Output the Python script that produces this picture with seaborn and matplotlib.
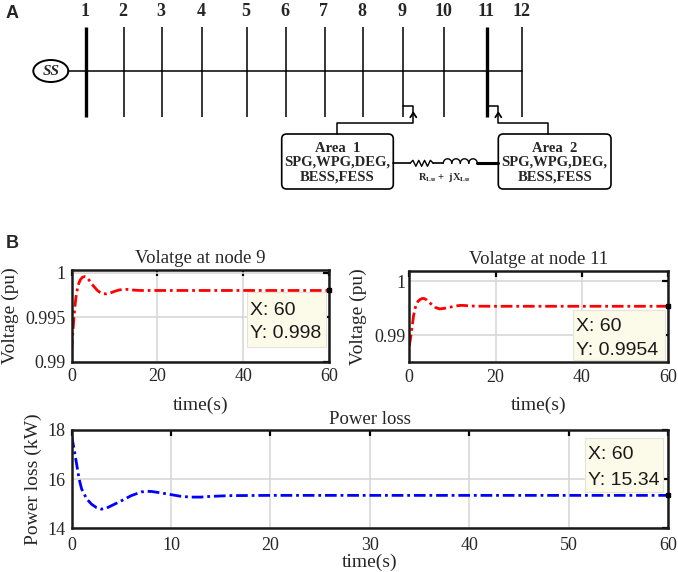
import numpy as np
import pandas as pd
import matplotlib
matplotlib.use('Agg')
import matplotlib.pyplot as plt
import seaborn as sns
from matplotlib.patches import Ellipse, FancyBboxPatch, Rectangle

# ---------------- data ----------------
bus_labels = ['1', '2', '3', '4', '5', '6', '7', '8', '9', '10', '11', '12']
area_texts = ['Area  1\nSPG,WPG,DEG,\nBESS,FESS', 'Area  2\nSPG,WPG,DEG,\nBESS,FESS']

time_v = [0, 0.25, 0.5, 0.75, 1.0, 1.5, 2.0, 2.5, 3.0, 3.5, 4.0, 5, 6, 7, 8, 9,
          10, 11, 12, 13, 14, 16, 20, 30, 40, 50, 60]
v_node9 = [0.9912, 0.9932, 0.9948, 0.9962, 0.9973, 0.9986, 0.9992, 0.99948, 0.99956,
           0.9995, 0.9992, 0.99855, 0.9980, 0.99765, 0.99762, 0.99772, 0.9979, 0.99805,
           0.99812, 0.99812, 0.99806, 0.99800, 0.99800, 0.998, 0.998, 0.998, 0.998]
v_node11 = [0.9880, 0.9893, 0.9907, 0.9922, 0.9937, 0.9955, 0.9963, 0.99665, 0.99685,
            0.99682, 0.9966, 0.99585, 0.9952, 0.99491, 0.9950, 0.99515, 0.99532, 0.99548,
            0.99557, 0.99553, 0.99546, 0.99541, 0.9954, 0.9954, 0.9954, 0.9954, 0.9954]
time_p = [0, 0.25, 0.5, 0.75, 1.0, 1.5, 2.0, 2.5, 3.0, 3.5, 4.0, 5, 6, 7, 7.5, 8, 9,
          10, 11, 12, 13, 14, 16, 20, 30, 40, 50, 60]
p_loss = [17.75, 17.2, 16.6, 16.0, 15.6, 15.2, 14.98, 14.84, 14.78, 14.82, 14.92, 15.12,
          15.33, 15.48, 15.5, 15.5, 15.44, 15.37, 15.3, 15.27, 15.27, 15.3, 15.33, 15.34,
          15.34, 15.34, 15.34, 15.34]

tip9 = (60, 0.998, ['X: 60', 'Y: 0.998'])
tip11 = (60, 0.9954, ['X: 60', 'Y: 0.9954'])
tipP = (60, 15.34, ['X: 60', 'Y: 15.34'])

# ---------------- style ----------------
sns.set_style('white')
plt.rcParams['font.family'] = ['Liberation Serif', 'DejaVu Serif']
plt.rcParams['mathtext.fontset'] = 'stix'

W, H = 678, 572
fig = plt.figure(figsize=(W / 100, H / 100), dpi=100)

# ---------------- panel A (schematic, pixel layout) ----------------
ax0 = fig.add_axes([0, 0, 1, 1])
ax0.set_xlim(0, W)
ax0.set_ylim(H, 0)
ax0.axis('off')
ax0.patch.set_alpha(0)

bus_x = [86, 124, 162.3, 202.3, 247, 285.7, 325, 363.3, 403.3, 444, 487.3, 522.3]
thick = {'1', '11'}
for lab, x in zip(bus_labels, bus_x):
    ax0.plot([x, x], [26.5, 116.7], color='black', lw=2.4 if lab in thick else 1.1,
             solid_capstyle='butt')
    ax0.text(x - 1, 11, lab, ha='center', va='center', fontsize=13, fontweight='bold')
ax0.plot([68.3, bus_x[-1]], [71, 71], color='black', lw=1.1)
ax0.add_patch(Ellipse((50.8, 71), 35, 22, fill=False, ec='black', lw=1.4))
ax0.text(50.8, 71.5, 'SS', ha='center', va='center', fontsize=11, fontstyle='italic',
         fontweight='bold')

# boxes
boxes = [(281.7, 134, 111.6, 55), (498.3, 134, 112.7, 55)]
for (bx, by, bw, bh), txt in zip(boxes, area_texts):
    ax0.add_patch(FancyBboxPatch((bx, by), bw, bh, boxstyle='round,pad=0,rounding_size=5',
                                 fill=False, ec='black', lw=1.2))
    ax0.text(bx + bw / 2, by + bh / 2 + 1, txt, ha='center', va='center', fontsize=10.5,
             fontweight='bold', linespacing=1.15)

# plug connections
for xb, xa, xbox in [(403.3, 413.3, 336.7), (487.3, 498.3, 548.3)]:
    ax0.plot([xb, xa, xa], [106, 106, 112.7], color='black', lw=1.1)
    ax0.plot([xa, xa, xbox, xbox], [112.7, 122.7, 122.7, 134], color='black', lw=1.1)
    ax0.plot([xa - 3, xa, xa + 3], [117.3, 112.7, 117.3], color='black', lw=1.3)

# line impedance
ly = 163.3
ax0.plot([393.3, 410], [ly, ly], color='black', lw=1.2)
zx = np.linspace(410, 433.3, 9)
zy = ly + np.array([0, -3, 3, -3, 3, -3, 3, -3, 0])
ax0.plot(zx, zy, color='black', lw=1.0)
ax0.plot([433.3, 443.3], [ly, ly], color='black', lw=1.2)
ncoil = 4
cw = (477.3 - 443.3) / ncoil
for i in range(ncoil):
    th = np.linspace(np.pi, 0, 30)
    cx = 443.3 + cw * (i + 0.5)
    ax0.plot(cx + cw / 2 * np.cos(th), ly - 4.5 * np.sin(th), color='black', lw=1.0)
ax0.plot([477.3, 498.3], [ly, ly], color='black', lw=2.2)
ax0.text(444, 177.5, r'R$_{\mathbf{Lu}}$ +  jX$_{\mathbf{Lu}}$', ha='center', va='center',
         fontsize=7.5, fontweight='bold')

ax0.text(12, 14, 'A', ha='center', va='center', fontsize=13, fontweight='bold',
         family='Liberation Sans')
ax0.text(12, 243, 'B', ha='center', va='center', fontsize=13, fontweight='bold',
         family='Liberation Sans')

# ---------------- panel B plots ----------------
def px_rect(l, r, t, b):
    return [l / W, 1 - b / H, (r - l) / W, (b - t) / H]

tick_col = '#262626'

def style_axes(ax, xt, yt, ytl, xpad, ypad):
    ax.set_xticks(xt)
    ax.set_xticklabels([str(v) for v in xt])
    ax.set_yticks(yt)
    ax.set_yticklabels(ytl)
    ax.tick_params(direction='in', length=4, width=1.6, top=True, right=True,
                   labelsize=13, colors='black', labelcolor=tick_col)
    ax.tick_params(axis='x', pad=xpad)
    ax.tick_params(axis='y', pad=ypad)
    ax.grid(True, color='#d8d8d8', lw=1.2)
    for s in ax.spines.values():
        s.set_linewidth(1.8)
        s.set_color('#1a1a1a')
        s.set_visible(True)
    ax.set_xlim(0, 60)

def datatip(ax, tip, box, text_x, line_y):
    x, y, lines = tip
    ax.plot([x], [y], marker='s', ms=3.2, color='black', clip_on=False, zorder=6)
    x0, x1, y0, y1 = box
    ax.add_patch(Rectangle((x0, y0), x1 - x0, y1 - y0, transform=ax.transAxes,
                           fc='#fcfbe9', ec='#e4e4da', lw=0.8, zorder=4))
    for txt, ty in zip(lines, line_y):
        ax.text(text_x, ty, txt, transform=ax.transAxes, ha='left', va='center',
                family='Liberation Sans', fontsize=14, color='#1a1a1a', zorder=5)

dash = (4.2, 1.4, 1.0, 1.4)

# Plot 1
ax1 = fig.add_axes(px_rect(71.7, 329, 270, 361.7))
sns.lineplot(x=time_v, y=v_node9, ax=ax1, color='red', lw=2.0)
ax1.lines[-1].set_dashes(dash)
style_axes(ax1, [0, 20, 40, 60], [0.99, 0.995, 1.0], ['0.99', '0.995', '1'], 4.5, 4.5)
ax1.set_ylim(0.99, 1.0003)
ax1.set_title('Volatge at node 9', fontsize=13.5, pad=5)
ax1.set_xlabel('time(s)', fontsize=14)
ax1.set_ylabel('Voltage (pu)', fontsize=14)
ax1.xaxis.set_label_coords(0.5, -0.385)
ax1.yaxis.set_label_coords(-0.205, 0.5)
datatip(ax1, tip9, (0.680, 0.988, 0.164, 0.763), 0.693, (0.563, 0.310))

# Plot 2
ax2 = fig.add_axes(px_rect(409.3, 668.3, 270.7, 362.3))
sns.lineplot(x=time_v, y=v_node11, ax=ax2, color='red', lw=2.0)
ax2.lines[-1].set_dashes(dash)
style_axes(ax2, [0, 20, 40, 60], [0.99, 1.0], ['0.99', '1'], 4.5, 3)
ax2.set_ylim(0.985, 1.002)
ax2.set_title('Volatge at node 11', fontsize=13.5, pad=5)
ax2.set_xlabel('time(s)', fontsize=14)
ax2.set_ylabel('Voltage (pu)', fontsize=14)
ax2.xaxis.set_label_coords(0.5, -0.379)
ax2.yaxis.set_label_coords(-0.163, 0.5)
datatip(ax2, tip11, (0.632, 0.988, 0.02, 0.571), 0.644, (0.389, 0.134))

# Plot 3
ax3 = fig.add_axes(px_rect(71.7, 668, 430, 528.3))
sns.lineplot(x=time_p, y=p_loss, ax=ax3, color='blue', lw=2.0)
ax3.lines[-1].set_dashes(dash)
style_axes(ax3, [0, 10, 20, 30, 40, 50, 60], [14, 16, 18], ['14', '16', '18'], 6.5, 4.8)
ax3.set_ylim(14, 18)
ax3.set_title('Power loss', fontsize=13.5, pad=4)
ax3.set_xlabel('time(s)', fontsize=14)
ax3.set_ylabel('Power loss (kW)', fontsize=14)
ax3.xaxis.set_label_coords(0.5, -0.262)
ax3.yaxis.set_label_coords(-0.0498, 0.5)
datatip(ax3, tipP, (0.861, 0.992, 0.369, 0.918), 0.866, (0.753, 0.491))

fig.savefig('out.png', dpi=100)
